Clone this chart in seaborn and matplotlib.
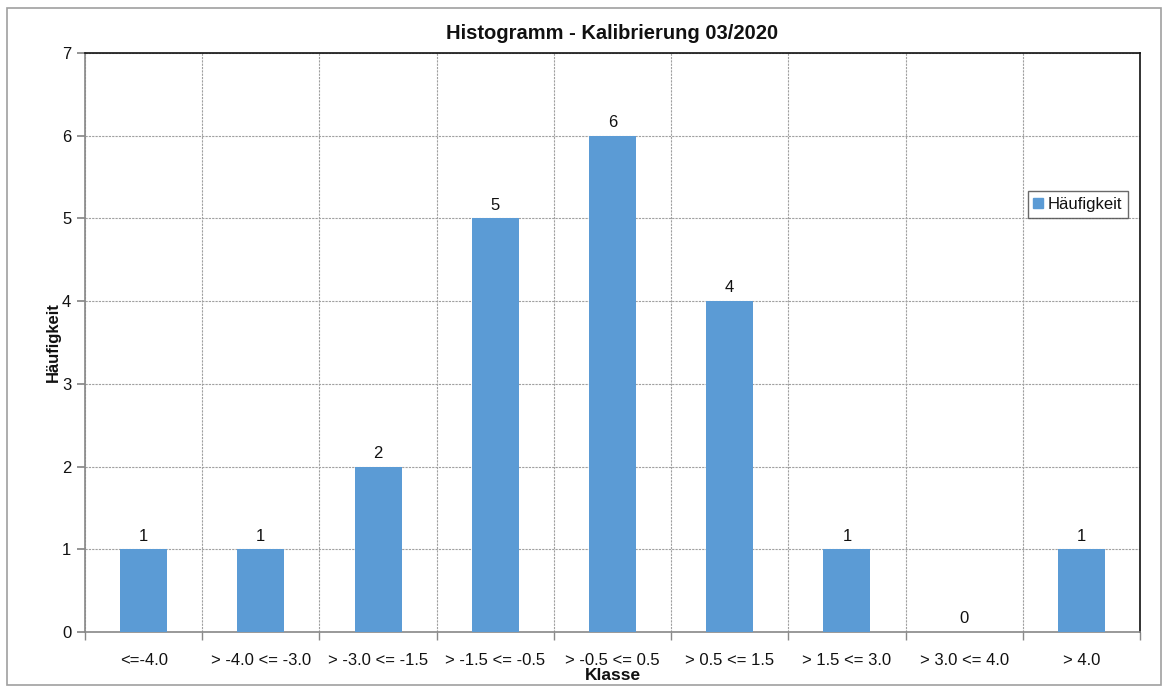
import matplotlib.pyplot as plt
import matplotlib.patches as mpatches
import numpy as np
import pandas as pd
import seaborn as sns

from matplotlib.ticker import FixedLocator, MultipleLocator

# Daten aus dem Histogramm
klassen = [
    "<=-4.0",
    "> -4.0 <= -3.0",
    "> -3.0 <= -1.5",
    "> -1.5 <= -0.5",
    "> -0.5 <= 0.5",
    "> 0.5 <= 1.5",
    "> 1.5 <= 3.0",
    "> 3.0 <= 4.0",
    "> 4.0",
]
haeufigkeit = [1, 1, 2, 5, 6, 4, 1, 0, 1]

BAR_COLOR = "#5b9bd5"

sns.set_theme(style="white")
plt.rcParams["font.family"] = ["Liberation Sans", "DejaVu Sans"]

df = pd.DataFrame({"Klasse": klassen, "Häufigkeit": haeufigkeit})

fig = plt.figure(figsize=(11.68, 6.89), dpi=100)
ax = fig.add_axes([0.0728, 0.0827, 0.9032, 0.8403])

sns.barplot(data=df, x="Klasse", y="Häufigkeit", color=BAR_COLOR,
            width=0.4, saturation=1, linewidth=0, ax=ax, zorder=3)

# Werte ueber den Balken
for i, v in enumerate(haeufigkeit):
    ax.text(i, v + 0.07, str(v), ha="center", va="bottom", fontsize=12, color="#111111")

ax.set_xlim(-0.5, len(klassen) - 0.5)
ax.set_ylim(0, 7)
ax.yaxis.set_major_locator(MultipleLocator(1))

# Gitterlinien an den Klassengrenzen
ax.xaxis.set_minor_locator(FixedLocator(np.arange(-0.5, len(klassen), 1.0)))
ax.grid(which="minor", axis="x", color="#a0a0a0", linestyle=(0, (2, 1)), linewidth=0.8, zorder=0)
ax.grid(which="major", axis="y", color="#a0a0a0", linestyle=(0, (2, 1)), linewidth=0.8, zorder=0)
ax.set_axisbelow(True)

ax.tick_params(axis="x", which="major", length=0, labelsize=12, pad=15, colors="#111111")
ax.tick_params(axis="x", which="minor", length=6, color="#888888", direction="out", bottom=True)
ax.tick_params(axis="y", which="major", length=6, color="#888888", labelsize=12,
               direction="out", left=True, labelcolor="#111111", pad=4)

for side in ["left", "bottom"]:
    ax.spines[side].set_color("#888888")
    ax.spines[side].set_linewidth(1.2)
for side in ["top", "right"]:
    ax.spines[side].set_color("#111111")
    ax.spines[side].set_linewidth(1.2)

ax.set_title("Histogramm - Kalibrierung 03/2020", fontsize=14.5, fontweight="bold",
             pad=10, color="#111111")
ax.set_xlabel("Klasse", fontsize=12.5, fontweight="bold", labelpad=0, color="#111111")
ax.set_ylabel("Häufigkeit", fontsize=12, fontweight="bold", labelpad=1, color="#111111")

handle = mpatches.Patch(color=BAR_COLOR, label="Häufigkeit")
leg = ax.legend(handles=[handle], loc="upper left", bbox_to_anchor=(0.8935, 0.762),
                borderaxespad=0, fontsize=12, frameon=True, fancybox=False,
                handlelength=0.6, handleheight=0.6, handletextpad=0.25, borderpad=0.35)
leg.get_frame().set_edgecolor("#444444")
leg.get_frame().set_linewidth(1.0)
for t in leg.get_texts():
    t.set_color("#111111")

# Rahmen um die gesamte Grafik
fig.patches.append(mpatches.Rectangle((0.006, 0.006), 0.988, 0.983, transform=fig.transFigure,
                                      fill=False, edgecolor="#a0a0a0", linewidth=1.2))

fig.savefig("out.png", dpi=100)
